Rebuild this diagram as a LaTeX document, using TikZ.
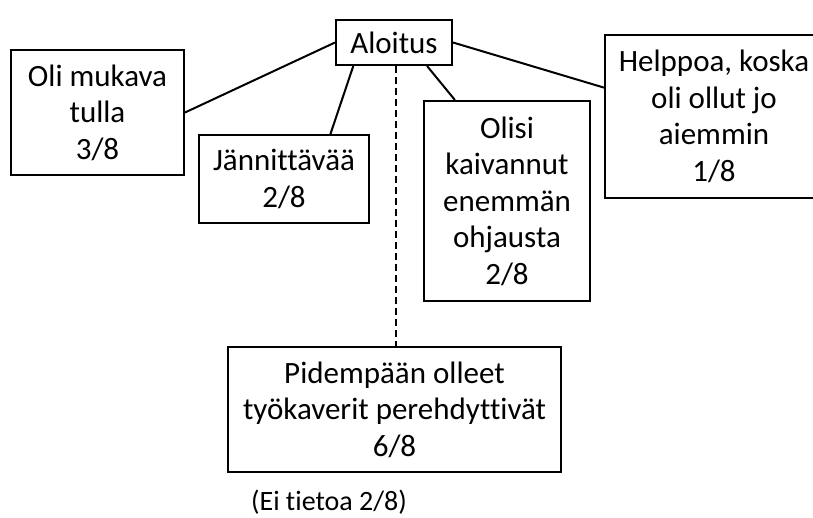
\documentclass[tikz,border=0pt]{standalone}
\usepackage{fontspec}
\setmainfont{Carlito}[Ligatures=NoCommon]
\usetikzlibrary{calc}
\begin{document}
\begin{tikzpicture}[x=1pt,y=-1pt,
  box/.style={draw=black,line width=2pt,rectangle,inner sep=0pt,align=center,
    font=\fontsize{31}{36.5}\selectfont},
  link/.style={draw=black,line width=2pt},
  dlink/.style={draw=black,line width=1.6pt,dash pattern=on 7pt off 4pt}]
\clip (0,0) rectangle (813,517);
\fill[white] (0,0) rectangle (813,517);
\node[box,minimum width=116pt,minimum height=45pt] (aloitus) at (394,42.5) {Aloitus};
\node[box,minimum width=173pt,minimum height=125pt] (oli) at (97.5,112.5) {Oli mukava\\tulla\\3/8};
\node[box,minimum width=170pt,minimum height=88pt] (jann) at (284,179) {Jännittävää\\2/8};
\node[box,minimum width=166pt,minimum height=200pt] (olisi) at (507,201) {Olisi\\kaivannut\\enemmän\\ohjausta\\2/8};
\node[box,minimum width=218pt,minimum height=163pt] (help) at (714,116.5) {Helppoa, koska\\oli ollut jo\\aiemmin\\1/8};
\node[box,minimum width=333pt,minimum height=125pt] (pid) at (394.5,409.5) {Pidempään olleet\\työkaverit perehdyttivät\\6/8};
\node[font=\fontsize{28}{32}\selectfont,inner sep=0pt] (ei) at (329,502) {(Ei tietoa 2/8)};
\draw[link] (aloitus.west) -- (oli.east);
\draw[link] ($(aloitus.south west)!0.155!(aloitus.south east)$) -- ($(jann.north west)!0.77!(jann.north east)$);
\draw[link] ($(aloitus.south west)!0.78!(aloitus.south east)$) -- ($(olisi.north west)!0.19!(olisi.north east)$);
\draw[link] (aloitus.east) -- ($(help.north west)!0.325!(help.south west)$);
\draw[dlink] ($(aloitus.south)+(2,0)$) -- ($(pid.north)+(1.5,0)$);
\end{tikzpicture}
\end{document}
